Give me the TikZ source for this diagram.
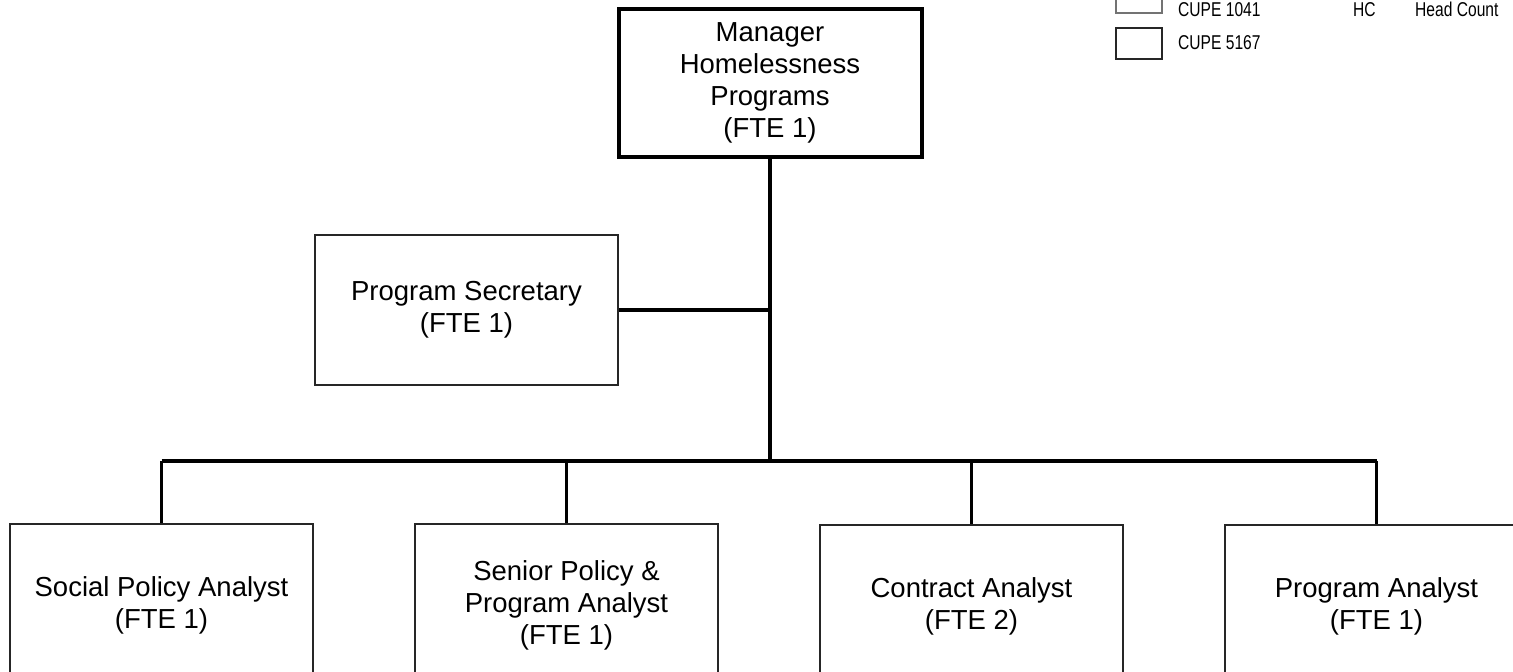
\documentclass[tikz,border=0pt]{standalone}
\usepackage{fontspec}
\setmainfont{Liberation Sans}
\newfontfamily\legendfont[FakeStretch=0.78]{Liberation Sans}
\begin{document}
\begin{tikzpicture}[x=1pt,y=-1pt,
  box/.style={draw=black!85, line width=2.8pt, fill=white, inner sep=0pt,
    minimum width=303pt, align=center,
    font=\fontsize{27.5}{32}\selectfont},
  topbox/.style={box, draw=black, line width=4pt},
  conn/.style={draw=black, line width=3.6pt},
  legbox/.style={line width=2.8pt, inner sep=0pt, minimum width=46pt, minimum height=31pt},
  legtext/.style={anchor=base west, inner sep=0pt, font=\legendfont\fontsize{20}{24}\selectfont}
]
\useasboundingbox (0,0) rectangle (1513,672);
\clip (0,0) rectangle (1513,672);

% legend
\node[legbox, draw=black!55] (lg1) at (1139,-2.5) {};
\node[legbox, draw=black!85] (lg2) at (1139,43.5) {};
\node[legtext] (lt1) at (1178,16) {CUPE 1041};
\node[legtext] (lt2) at (1178,49) {CUPE 5167};
\node[legtext] (lhc) at (1353,16) {HC};
\node[legtext] (lhd) at (1415,16) {Head Count};

% boxes
\node[topbox, minimum height=148pt] (mgr) at (770,83) {Manager\\Homelessness\\Programs\\(FTE 1)};
\node[box, minimum height=150pt] (sec) at (466.5,310) {Program Secretary\\(FTE 1)};
\node[box, minimum height=162pt] (soc) at (161.5,605) {Social Policy Analyst\\(FTE 1)};
\node[box, minimum height=162pt] (spa) at (566.5,605) {Senior Policy \&\\Program Analyst\\(FTE 1)};
\node[box, minimum height=162pt] (con) at (971.5,606) {Contract Analyst\\(FTE 2)};
\node[box, minimum height=162pt] (pan) at (1376.5,606) {Program Analyst\\(FTE 1)};

\coordinate (bus) at (0,461);

% connectors
\draw[conn] (mgr.south) -- (mgr.south |- bus);
\draw[conn] (sec.east) -- (sec.east -| mgr.south);
\draw[conn] (soc.north |- bus) -- (pan.north |- bus);
\draw[conn] (soc.north |- bus) -- (soc.north);
\draw[conn] (spa.north |- bus) -- (spa.north);
\draw[conn] (con.north |- bus) -- (con.north);
\draw[conn] (pan.north |- bus) -- (pan.north);
\end{tikzpicture}
\end{document}
